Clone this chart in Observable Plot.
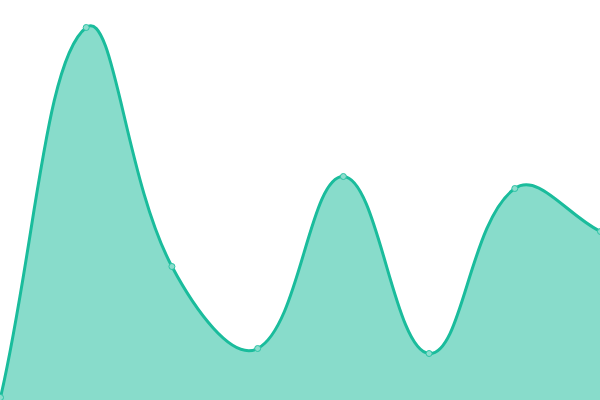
<!DOCTYPE html>
<html>
<head>
<meta charset="utf-8">
<script src="https://cdn.jsdelivr.net/npm/d3@7"></script>
<script src="https://cdn.jsdelivr.net/npm/@observablehq/plot@0.6"></script>
<style>
html,body{margin:0;padding:0;background:#fff;}
svg{display:block;}
</style>
</head>
<body>
<div id="chart"></div>
<script>
const categories = [0, 1, 2, 3, 4, 5, 6, 7];
const values = [3, 373, 134, 52, 224, 47, 212, 169];

const data = categories.map((c, i) => ({x: c, y: values[i]}));

// Distance-weighted bezier spline (tension 0.4)
function tensionCurve(context) {
  const tension = 0.4;
  let pts = [], line = NaN;
  return {
    areaStart() { line = 0; },
    areaEnd() { line = NaN; },
    lineStart() { pts = []; },
    point(x, y) { pts.push([+x, +y]); },
    lineEnd() {
      const n = pts.length;
      if (n) {
        const cps = pts.map((cur, i) => {
          const prev = i > 0 ? pts[i - 1] : cur;
          const next = i < n - 1 ? pts[i + 1] : cur;
          const d01 = Math.hypot(cur[0] - prev[0], cur[1] - prev[1]);
          const d12 = Math.hypot(next[0] - cur[0], next[1] - cur[1]);
          let s01 = d01 / (d01 + d12), s12 = d12 / (d01 + d12);
          if (isNaN(s01)) s01 = 0;
          if (isNaN(s12)) s12 = 0;
          const fa = tension * s01, fb = tension * s12;
          return {
            p: [cur[0] - fa * (next[0] - prev[0]), cur[1] - fa * (next[1] - prev[1])],
            n: [cur[0] + fb * (next[0] - prev[0]), cur[1] + fb * (next[1] - prev[1])]
          };
        });
        if (line) context.lineTo(pts[0][0], pts[0][1]);
        else context.moveTo(pts[0][0], pts[0][1]);
        for (let i = 1; i < n; i++) {
          const a = cps[i - 1].n, b = cps[i].p;
          context.bezierCurveTo(a[0], a[1], b[0], b[1], pts[i][0], pts[i][1]);
        }
      }
      if (line || (line !== 0 && n === 1)) context.closePath();
      line = 1 - line;
    }
  };
}

const chart = Plot.plot({
  width: 600,
  height: 400,
  margin: 0,
  style: {background: "#fff"},
  x: {domain: [0, 7], axis: null},
  y: {domain: [0, 400], axis: null},
  marks: [
    Plot.areaY(data, {x: "x", y: "y", curve: tensionCurve, fill: "#1abc9c", fillOpacity: 0.52}),
    Plot.lineY(data, {x: "x", y: "y", curve: tensionCurve, stroke: "#1abc9c", strokeWidth: 3}),
    Plot.dot(data, {x: "x", y: "y", r: 3, fill: "#8cddcd", stroke: "#2cc3a5", strokeWidth: 1})
  ]
});
document.getElementById("chart").appendChild(chart);
</script>
</body>
</html>
